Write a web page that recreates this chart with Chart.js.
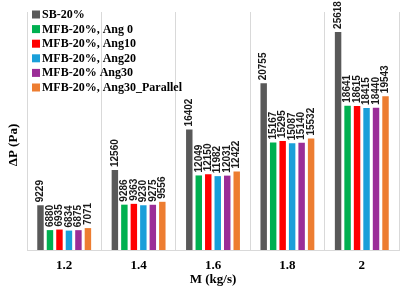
<!DOCTYPE html>
<html>
<head>
<meta charset="utf-8">
<script src="https://cdn.jsdelivr.net/npm/chart.js@4.4.1/dist/chart.umd.min.js"></script>
<style>
  html, body { margin: 0; padding: 0; background: #fff; }
  #wrap { width: 403px; height: 299px; position: relative; }
</style>
</head>
<body>
<div id="wrap"><canvas id="dpChart"></canvas></div>
<script>
const categories = ["1.2", "1.4", "1.6", "1.8", "2"];
const seriesNames = ["SB-20%", "MFB-20%, Ang 0", "MFB-20%, Ang10", "MFB-20%, Ang20", "MFB-20% Ang30", "MFB-20%, Ang30_Parallel"];
const sb20 = [9229, 12560, 16402, 20755, 25618];
const ang0 = [6880, 9286, 12049, 15167, 18641];
const ang10 = [6935, 9363, 12150, 15295, 18615];
const ang20 = [6834, 9230, 11982, 15087, 18415];
const ang30 = [6875, 9275, 12031, 15140, 18440];
const ang30Parallel = [7071, 9556, 12422, 15532, 19543];
const seriesColors = ["#595959", "#00b050", "#ff0000", "#1a9fd9", "#9b2d97", "#ed7d31"];

const allSeries = [sb20, ang0, ang10, ang20, ang30, ang30Parallel];

// value labels rotated above each bar, legend and y title drawn by hand
const extrasPlugin = {
    id: 'extras',
    afterDatasetsDraw(chart) {
        const ctx = chart.ctx;
        ctx.save();
        ctx.font = 'bold 10px "Liberation Sans", Arial, sans-serif';
        ctx.fillStyle = '#1a1a1a';
        ctx.textAlign = 'left';
        ctx.textBaseline = 'middle';
        chart.data.datasets.forEach((ds, i) => {
            const meta = chart.getDatasetMeta(i);
            meta.data.forEach((bar, j) => {
                ctx.save();
                ctx.translate(bar.x, bar.y - 3);
                ctx.rotate(-Math.PI / 2);
                ctx.fillText(String(ds.data[j]), 0, 0);
                ctx.restore();
            });
        });
        ctx.restore();
    },
    afterDraw(chart) {
        const ctx = chart.ctx;
        ctx.save();
        // legend
        ctx.font = 'bold 12px "Liberation Serif", "Times New Roman", serif';
        ctx.textBaseline = 'middle';
        ctx.textAlign = 'left';
        chart.data.datasets.forEach((ds, i) => {
            const y = 14.5 + i * 14.6;
            ctx.fillStyle = ds.backgroundColor;
            ctx.fillRect(32, y - 4, 8, 8);
            ctx.fillStyle = '#000';
            ctx.fillText(ds.label, 42, y + 0.5);
        });
        // y axis title
        ctx.font = 'bold 13px "Liberation Serif", "Times New Roman", serif';
        ctx.textAlign = 'center';
        ctx.translate(14, 145);
        ctx.rotate(-Math.PI / 2);
        ctx.fillText('ΔP (Pa)', 0, 0);
        ctx.restore();
    }
};

const ctx = document.getElementById('dpChart').getContext('2d');

new Chart(ctx, {
    type: 'bar',
    data: {
        labels: categories,
        datasets: allSeries.map((vals, i) => ({
            label: seriesNames[i],
            data: vals,
            backgroundColor: seriesColors[i],
            borderWidth: 0,
            categoryPercentage: 0.765,
            barPercentage: 0.68
        }))
    },
    options: {
        responsive: true,
        maintainAspectRatio: false,
        animation: false,
        layout: {
            padding: { top: 12, left: 27, right: 4, bottom: 13 }
        },
        plugins: {
            legend: { display: false },
            tooltip: { enabled: false }
        },
        scales: {
            y: {
                display: false,
                min: 5000,
                max: 27500
            },
            x: {
                grid: {
                    color: '#d9d9d9',
                    drawTicks: false,
                    tickLength: 0,
                    offset: true
                },
                border: { color: '#d9d9d9' },
                ticks: {
                    padding: 9,
                    color: '#000',
                    font: { family: '"Liberation Serif", "Times New Roman", serif', size: 13, weight: 'bold', lineHeight: 1 }
                },
                title: {
                    display: true,
                    text: 'M (kg/s)',
                    color: '#000',
                    padding: { top: -8, bottom: 0 },
                    font: { family: '"Liberation Serif", "Times New Roman", serif', size: 13, weight: 'bold', lineHeight: 1 }
                }
            }
        }
    },
    plugins: [extrasPlugin]
});
</script>
</body>
</html>
